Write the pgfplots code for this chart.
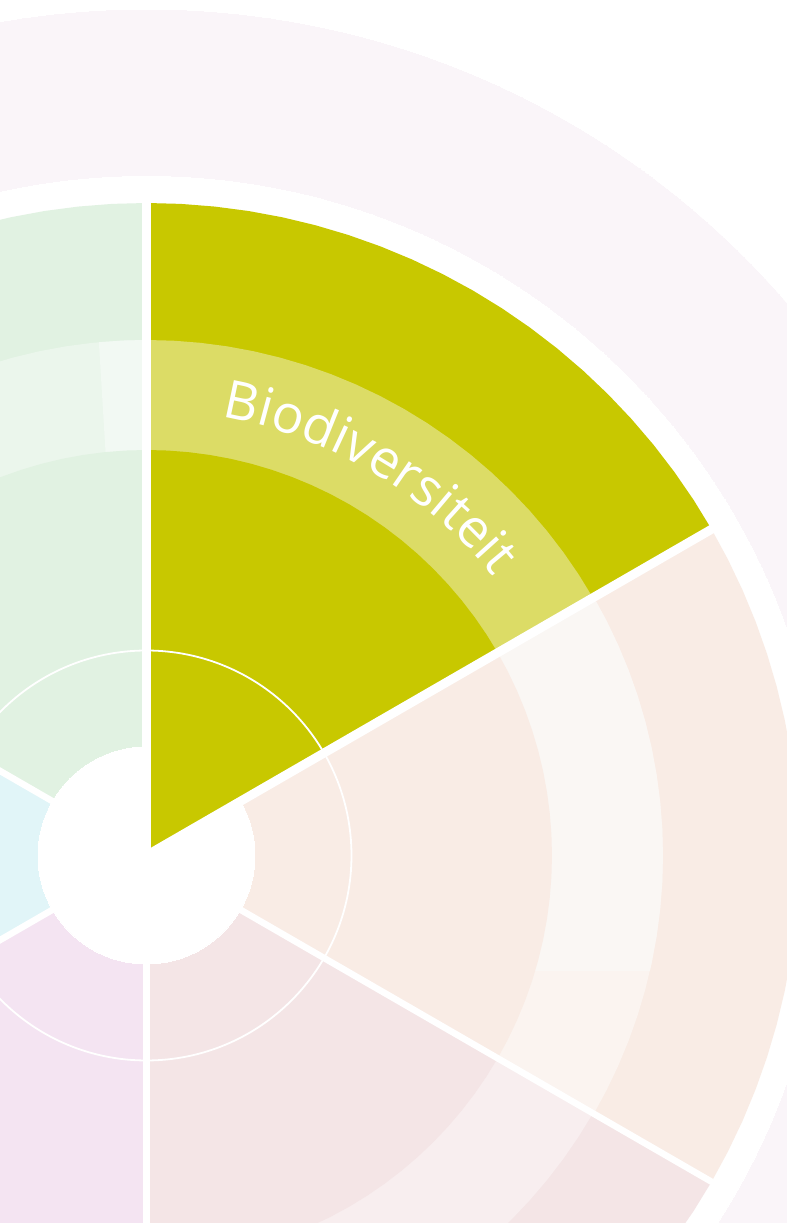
\documentclass[border=0pt]{standalone}
\usepackage{pgfplots}
\usepackage{pgfplotstable}
\pgfplotsset{compat=1.18}
\usepackage{fontspec}
\usetikzlibrary{decorations.text}
\newfontfamily\biofont{Open Sans}
\definecolor{pale}{HTML}{FAF5F9}
\definecolor{ylw}{HTML}{C8C800}
\definecolor{ylwband}{HTML}{DCDC66}
\definecolor{grn}{HTML}{E1F2E2}
\definecolor{grnband}{HTML}{EBF6EC}
\definecolor{grnpatch}{HTML}{F2F9F3}
\definecolor{cyn}{HTML}{E1F5F8}
\definecolor{prp}{HTML}{F4E4F2}
\definecolor{pnk}{HTML}{F4E5E6}
\definecolor{pnkband}{HTML}{F8EEEF}
\definecolor{pch}{HTML}{F9ECE5}
\definecolor{pchA}{HTML}{FAF7F4}
\definecolor{pchB}{HTML}{FBF4F0}
% polar tables: angle a, outer radius r1, band radius r2, inner radius r3
\pgfplotstableread{
a r1 r2 r3
30 0 0 0
30 652.5 515.5 405.5
33 652.5 515.5 405.5
36 652.5 515.5 405.5
39 652.5 515.5 405.5
42 652.5 515.5 405.5
45 652.5 515.5 405.5
48 652.5 515.5 405.5
51 652.5 515.5 405.5
54 652.5 515.5 405.5
57 652.5 515.5 405.5
60 652.5 515.5 405.5
63 652.5 515.5 405.5
66 652.5 515.5 405.5
69 652.5 515.5 405.5
72 652.5 515.5 405.5
75 652.5 515.5 405.5
78 652.5 515.5 405.5
81 652.5 515.5 405.5
84 652.5 515.5 405.5
87 652.5 515.5 405.5
90 652.5 515.5 405.5
}\ylwtab
\pgfplotstableread{
a r1 r2 r3
90 0 0 0
90 652.5 515.5 405.5
93 652.5 515.5 405.5
96 652.5 515.5 405.5
99 652.5 515.5 405.5
102 652.5 515.5 405.5
105 652.5 515.5 405.5
108 652.5 515.5 405.5
111 652.5 515.5 405.5
114 652.5 515.5 405.5
117 652.5 515.5 405.5
120 652.5 515.5 405.5
123 652.5 515.5 405.5
126 652.5 515.5 405.5
129 652.5 515.5 405.5
132 652.5 515.5 405.5
135 652.5 515.5 405.5
138 652.5 515.5 405.5
141 652.5 515.5 405.5
144 652.5 515.5 405.5
147 652.5 515.5 405.5
150 652.5 515.5 405.5
}\grntab
\pgfplotstableread{
a r1
150 0
150 652.5
153 652.5
156 652.5
159 652.5
162 652.5
165 652.5
168 652.5
171 652.5
174 652.5
177 652.5
180 652.5
183 652.5
186 652.5
189 652.5
192 652.5
195 652.5
198 652.5
201 652.5
204 652.5
207 652.5
210 652.5
}\cyntab
\pgfplotstableread{
a r1
210 0
210 652.5
213 652.5
216 652.5
219 652.5
222 652.5
225 652.5
228 652.5
231 652.5
234 652.5
237 652.5
240 652.5
243 652.5
246 652.5
249 652.5
252 652.5
255 652.5
258 652.5
261 652.5
264 652.5
267 652.5
270 652.5
}\prptab
\pgfplotstableread{
a r1 r2 r3
-90 0 0 0
-90 652.5 515.5 405.5
-87 652.5 515.5 405.5
-84 652.5 515.5 405.5
-81 652.5 515.5 405.5
-78 652.5 515.5 405.5
-75 652.5 515.5 405.5
-72 652.5 515.5 405.5
-69 652.5 515.5 405.5
-66 652.5 515.5 405.5
-63 652.5 515.5 405.5
-60 652.5 515.5 405.5
-57 652.5 515.5 405.5
-54 652.5 515.5 405.5
-51 652.5 515.5 405.5
-48 652.5 515.5 405.5
-45 652.5 515.5 405.5
-42 652.5 515.5 405.5
-39 652.5 515.5 405.5
-36 652.5 515.5 405.5
-33 652.5 515.5 405.5
-30 652.5 515.5 405.5
}\pnktab
\pgfplotstableread{
a r1 r2 r3
-30 0 0 0
-30 652.5 516.5 405.5
-27 652.5 516.5 405.5
-24 652.5 516.5 405.5
-21 652.5 516.5 405.5
-18 652.5 516.5 405.5
-15 652.5 516.5 405.5
-12 652.5 516.5 405.5
-9 652.5 516.5 405.5
-6 652.5 516.5 405.5
-3 652.5 516.5 405.5
0 652.5 516.5 405.5
3 652.5 516.5 405.5
6 652.5 516.5 405.5
9 652.5 516.5 405.5
12 652.5 516.5 405.5
15 652.5 516.5 405.5
18 652.5 516.5 405.5
21 652.5 516.5 405.5
24 652.5 516.5 405.5
27 652.5 516.5 405.5
30 652.5 516.5 405.5
}\pchtab
\begin{document}
\begin{tikzpicture}
\begin{axis}[
  scale only axis, width=787pt, height=1223pt,
  xmin=-146.5, xmax=640.5, ymin=-367.5, ymax=855.5,
  hide axis, clip marker paths=true,
]
% background circles
\addplot[only marks, mark=*, mark size=845.5pt, mark options={fill=pale, draw=pale, line width=0pt}] coordinates {(0,0)};
\addplot[only marks, mark=*, mark size=679pt, mark options={fill=white, draw=white, line width=0pt}] coordinates {(0,0)};
% ---- green wedge 90..150
\addplot[data cs=polar, fill=grn, draw=none] table[x=a, y=r1] {\grntab} --cycle;
\addplot[data cs=polar, fill=grnband, draw=none] table[x=a, y=r2] {\grntab} --cycle;
\addplot[data cs=polar, fill=grnpatch, draw=none] coordinates {(0,0) (90,515.5) (92.5,515.5) (95.3,515.5) (95.8,405.5)} --cycle;
\addplot[data cs=polar, fill=grn, draw=none] table[x=a, y=r3] {\grntab} --cycle;
% ---- cyan wedge 150..210
\addplot[data cs=polar, fill=cyn, draw=none] table[x=a, y=r1] {\cyntab} --cycle;
% ---- purple wedge 210..270
\addplot[data cs=polar, fill=prp, draw=none] table[x=a, y=r1] {\prptab} --cycle;
% ---- pink wedge -90..-30
\addplot[data cs=polar, fill=pnk, draw=none] table[x=a, y=r1] {\pnktab} --cycle;
\addplot[data cs=polar, fill=pnkband, draw=none] table[x=a, y=r2] {\pnktab} --cycle;
\addplot[data cs=polar, fill=pnk, draw=none] table[x=a, y=r3] {\pnktab} --cycle;
% ---- peach wedge -30..30
\addplot[data cs=polar, fill=pch, draw=none] table[x=a, y=r1] {\pchtab} --cycle;
\addplot[data cs=polar, fill=pchB, draw=none] table[x=a, y=r2] {\pchtab} --cycle;
\addplot[data cs=polar, fill=pchA, draw=none] coordinates {(0,0) (30,516.5) (27,516.5) (24,516.5) (21,516.5) (18,516.5) (15,516.5) (12,516.5) (9,516.5) (6,516.5) (3,516.5) (0,516.5) (-3,516.5) (-6,516.5) (-9,516.5) (-12,516.5) (-12.92,516.5) (-16.55,405.5)} --cycle;
\addplot[data cs=polar, fill=pch, draw=none] table[x=a, y=r3] {\pchtab} --cycle;
% ---- hole
\addplot[only marks, mark=*, mark size=108.5pt, mark options={fill=white, draw=white, line width=0pt}] coordinates {(0,0)};
% ---- yellow wedge 30..90 (highlighted)
\addplot[data cs=polar, fill=ylw, draw=none] table[x=a, y=r1] {\ylwtab} --cycle;
\addplot[data cs=polar, fill=ylwband, draw=none] table[x=a, y=r2] {\ylwtab} --cycle;
\addplot[data cs=polar, fill=ylw, draw=none] table[x=a, y=r3] {\ylwtab} --cycle;
% ---- white separators
\addplot[data cs=polar, draw=white, line width=9pt] coordinates {(90,0) (90,665)};
\addplot[data cs=polar, draw=white, line width=9pt] coordinates {(30,0) (30,665)};
\addplot[data cs=polar, draw=white, line width=6.5pt] coordinates {(150,0) (150,665)};
\addplot[data cs=polar, draw=white, line width=6.5pt] coordinates {(210,0) (210,665)};
\addplot[data cs=polar, draw=white, line width=6.5pt] coordinates {(270,0) (270,665)};
\addplot[data cs=polar, draw=white, line width=6.5pt] coordinates {(330,0) (330,665)};
% ---- thin circle
\addplot[only marks, mark=o, mark size=205pt, mark options={draw=white, fill=none, line width=1.8pt}] coordinates {(0,0)};
% ---- label
\path[decorate, decoration={text along path, text={|\color{white}\biofont\fontsize{53}{53}\selectfont|Biodiversiteit}, text align=center}]
  (axis cs:38.78,443.31) arc[start angle=85, end angle=34, radius=445pt];
\end{axis}
\pgfresetboundingbox
\useasboundingbox (current axis.south west) rectangle (current axis.north east);
\end{tikzpicture}
\end{document}
